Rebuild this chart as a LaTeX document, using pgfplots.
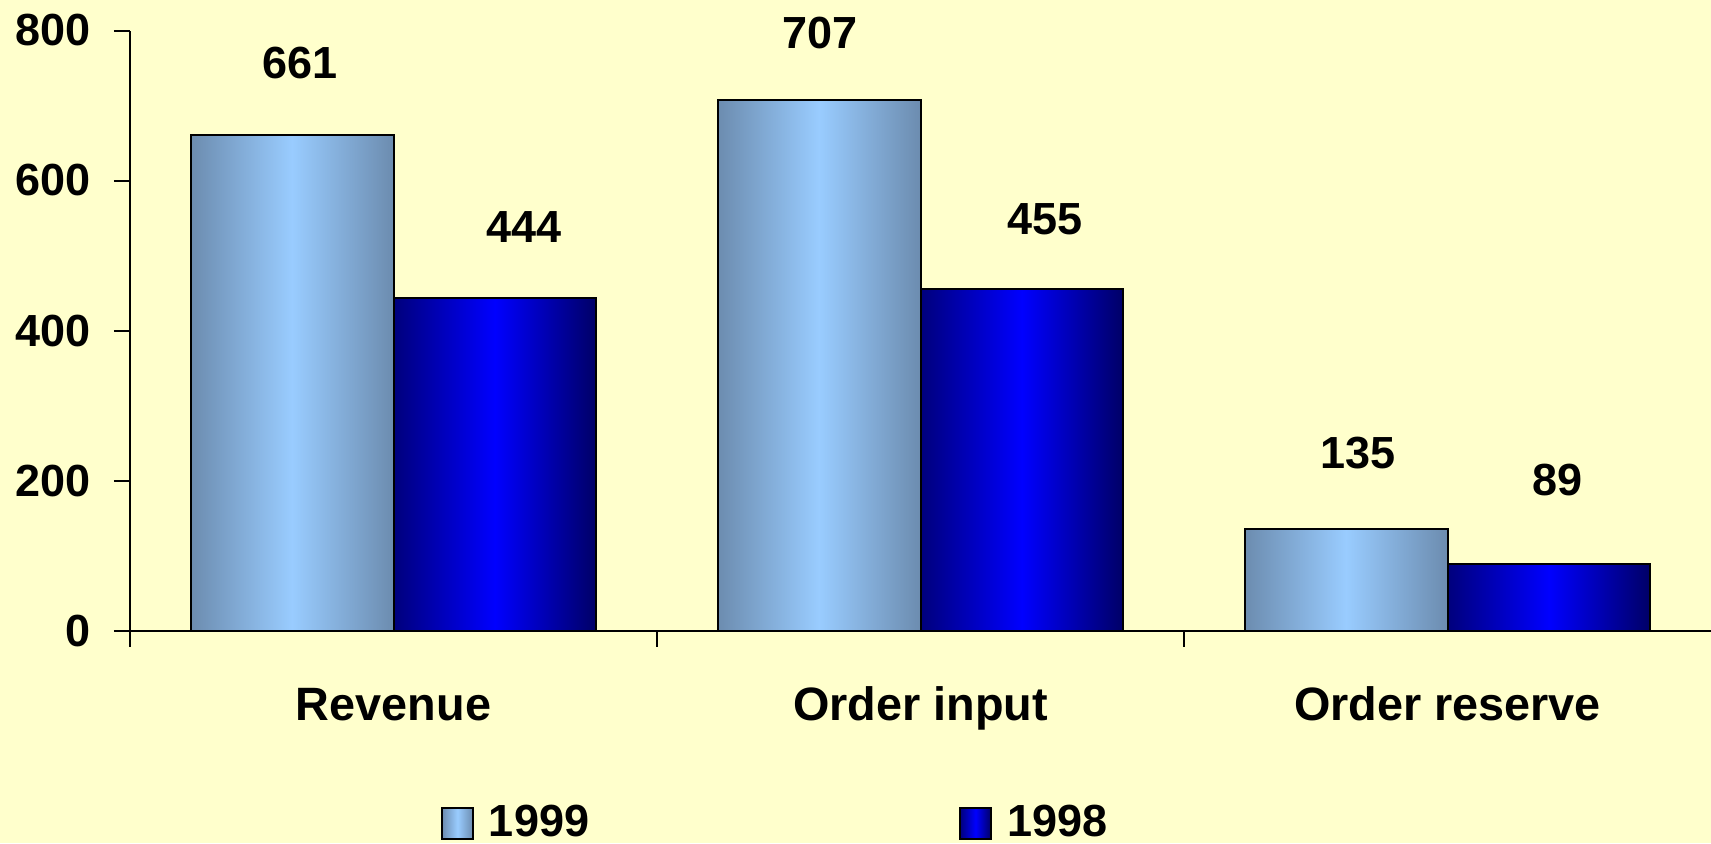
\documentclass[border=0pt]{standalone}
\usepackage{pgfplots}
\usepackage{pgfplotstable}
\pgfplotsset{compat=1.18}
\usepackage{fontspec}
\setmainfont{Liberation Sans}

\definecolor{bgyellow}{HTML}{FFFFCC}
\definecolor{steeledge}{HTML}{6C8CAF}
\definecolor{skycore}{HTML}{99CCFF}
\definecolor{navyleft}{HTML}{00007C}
\definecolor{navyright}{HTML}{000066}
\definecolor{bluecore}{HTML}{0000FF}

\newcommand{\numfont}{\fontsize{22.5pt}{27pt}\selectfont\bfseries}
\newcommand{\catfont}{\fontsize{23.4pt}{28pt}\selectfont\bfseries}

\pgfplotsset{
  squarelegend/.style={
    legend image code/.code={\draw[##1,/tikz/.cd,draw=black,line width=1pt]
      (0pt,-8.25pt) rectangle (15.5pt,7.25pt);}},
  % each bar is a closed rectangle from its edges and value, shaded across its width
  % (middle color must follow left/right color)
  bar1999/.style={draw=black, line width=1pt, mark=none,
    left color=steeledge, right color=steeledge, middle color=skycore, squarelegend},
  bar1998/.style={draw=black, line width=1pt, mark=none,
    left color=navyleft, right color=navyright, middle color=bluecore, squarelegend},
  valuelabels/.style={forget plot, draw=none, mark=none, nodes near coords,
    point meta=explicit symbolic, nodes near coords align={center},
    every node near coord/.append style={anchor=center, font=\numfont, inner sep=0pt}},
}

% label positions (x, y in axis units) and the value each label states
\pgfplotstableread{
x       y     lab
-0.177  756   661
 0.810  797   707
 1.830  237   135
}\labelsA
\pgfplotstableread{
x       y     lab
 0.247  538   444
 1.237  548   455
 2.209  201   89
}\labelsB

\begin{document}
\begin{tikzpicture}
\fill[bgyellow] (-65pt,-106.25pt) rectangle (790.5pt,315.25pt);
\begin{axis}[
  at={(0pt,0pt)}, anchor=south west,
  scale only axis, width=790.5pt, height=300pt,
  xmin=-0.5, xmax=2.5, ymin=0, ymax=800,
  clip=false,
  axis x line*=bottom, axis y line*=left,
  axis line style={line width=1pt, black},
  tick align=outside,
  major tick length=8pt,
  minor tick length=8pt,
  ytick={0,200,400,600,800},
  ytick style={line width=1pt, black},
  xtick={0,1,2},
  xticklabels={Revenue, Order input, Order reserve},
  major x tick style={draw=none},
  minor xtick={-0.5,0.5,1.5},
  minor x tick style={line width=1pt, black},
  yticklabel style={font=\numfont, inner sep=0pt, anchor=east, xshift=-11.5pt},
  xticklabel style={font=\catfont, inner sep=0pt, anchor=base, yshift=-36.75pt},
  /pgf/number format/assume math mode=true,
  legend columns=2,
  legend style={at={(0.1967,-0.3202)}, anchor=west, draw=none, fill=none,
    inner sep=0pt, outer sep=0pt, font=\numfont, nodes={inner sep=0pt},
    /tikz/column sep=7.5pt,
    /tikz/every even column/.append style={column sep=185pt}},
]
% 1999: bars span [category-0.385, category]
\addplot[bar1999] coordinates {(-0.385,661) (0,661)} \closedcycle;
\addlegendentry{1999}
% 1998: bars span [category, category+0.385]
\addplot[bar1998] coordinates {(0,444) (0.385,444)} \closedcycle;
\addlegendentry{1998}
\addplot[bar1999, forget plot] coordinates {(0.615,707) (1,707)} \closedcycle;
\addplot[bar1998, forget plot] coordinates {(1,455) (1.385,455)} \closedcycle;
\addplot[bar1999, forget plot] coordinates {(1.615,135) (2,135)} \closedcycle;
\addplot[bar1998, forget plot] coordinates {(2,89) (2.385,89)} \closedcycle;

\addplot[valuelabels] table[x=x, y=y, meta=lab] {\labelsA};
\addplot[valuelabels] table[x=x, y=y, meta=lab] {\labelsB};
\end{axis}
\pgfresetboundingbox
\path (-65pt,-106.25pt) rectangle (790.5pt,315.25pt);
\end{tikzpicture}
\end{document}
